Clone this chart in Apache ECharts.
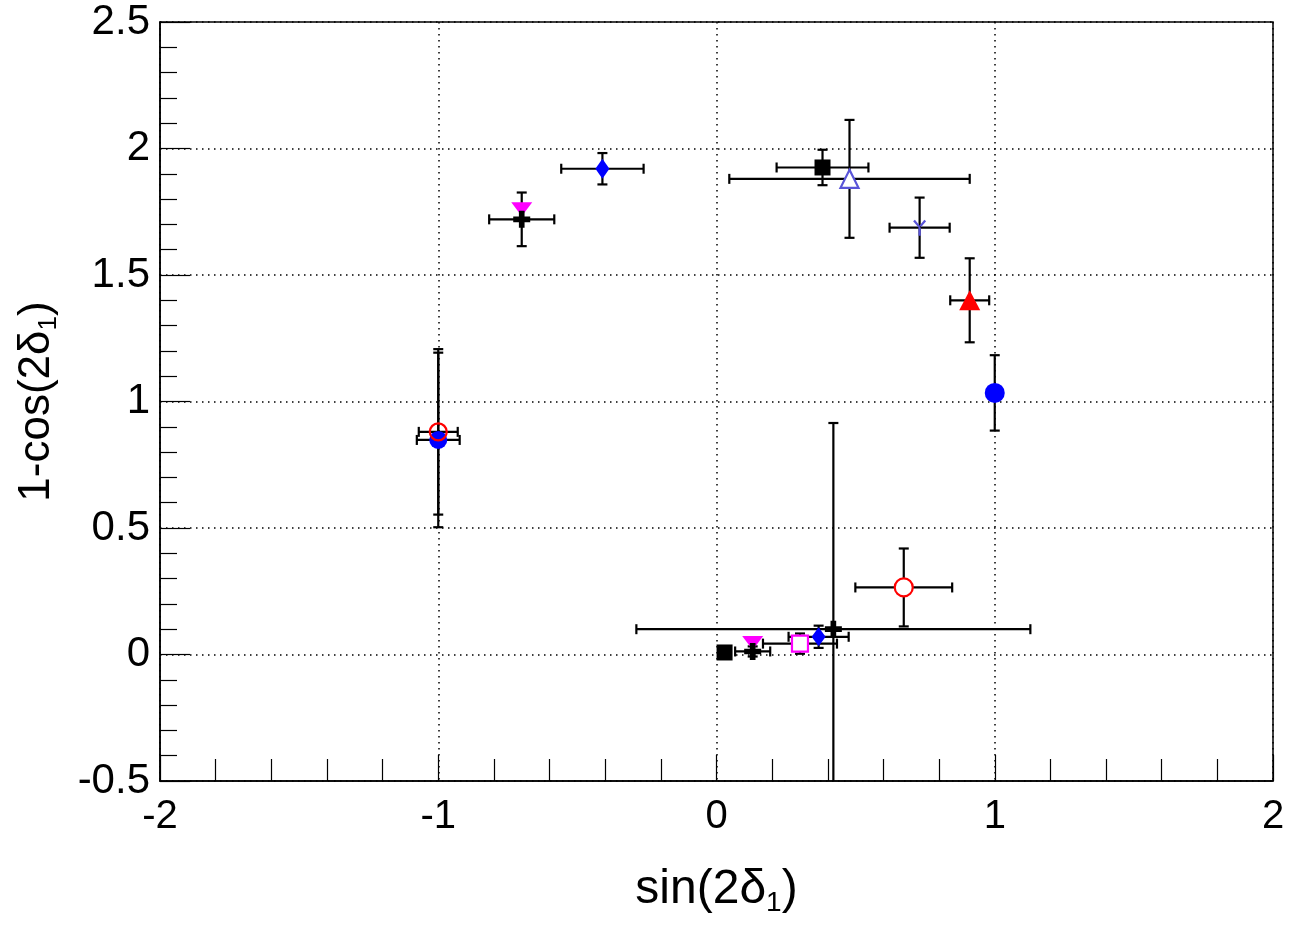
<!DOCTYPE html>
<html>
<head>
<meta charset="utf-8">
<script src="https://cdn.jsdelivr.net/npm/echarts@6/dist/echarts.min.js"></script>
<style>
html,body{margin:0;padding:0;background:#fff;}
#c{width:1293px;height:929px;}
</style>
</head>
<body>
<div id="c"></div>
<script>
// ---- data ----
const xTicks = [-2, -1, 0, 1, 2];
const yTicks = [-0.5, 0, 0.5, 1, 1.5, 2, 2.5];
const pointIds = ['blueDiamondTop','magentaTriTop','blackCrossTop','blackSquareTop','openTriangle','yStar','redTriangle','blueCircleRight','blueBlobLeft','redRingLeft','redRingBottom','bigCross','blueDiamondBottom','magentaSquare','blackSquareBottom','magentaTriBottom','blackCrossBottom'];
const xVals = [-0.41, -0.70, -0.70, 0.381, 0.478, 0.73, 0.91, 1.00, -1.00, -1.00, 0.673, 0.42, 0.367, 0.30, 0.029, 0.13, 0.13];
const yVals = [1.92, 1.76, 1.72, 1.925, 1.88, 1.687, 1.40, 1.034, 0.848, 0.88, 0.265, 0.10, 0.07, 0.043, 0.008, 0.045, 0.012];
const xErrs = [0.148, 0, 0.117, 0.165, 0.432, 0.108, 0.07, 0, 0.077, 0.07, 0.174, 0.708, 0.108, 0.133, 0, 0, 0.063];
const yErrs = [0.062, 0, 0.106, 0.07, 0.233, 0.119, 0.166, 0.149, 0.345, 0.327, 0.154, 0.815, 0.044, 0.04, 0, 0, 0.02];

// ---- marker styles (by point id) ----
const CROSS = 'path://M1,0 L2,0 L2,1 L3,1 L3,2 L2,2 L2,3 L1,3 L1,2 L0,2 L0,1 L1,1 Z';
const INVTRI = 'path://M0,0 L2,0 L1,1.6 Z';
const YSTAR = 'path://M4.2,4 L5.8,4 L5.8,10 L4.2,10 Z M4.4,5.2 L0.6,1.2 L1.8,0.2 L5.4,4.2 Z M5.6,5.2 L9.4,1.2 L8.2,0.2 L4.6,4.2 Z';
const styles = {
  blueDiamondTop:   {symbol:'diamond', size:[14,20], fill:'#0000ff', stroke:'#0000ff', bw:0},
  magentaTriTop:    {symbol:INVTRI, size:[21,14], fill:'#ff00ff', stroke:'#ff00ff', bw:0},
  blackCrossTop:    {symbol:CROSS, size:[17,17], fill:'#000', stroke:'#000', bw:0},
  blackSquareTop:   {symbol:'rect', size:[16,16], fill:'#000', stroke:'#000', bw:0},
  openTriangle:     {symbol:'triangle', size:[18,18], fill:'#fff', stroke:'#5954d8', bw:2.2},
  yStar:            {symbol:YSTAR, size:[13,16], fill:'#5954d8', stroke:'#5954d8', bw:0},
  redTriangle:      {symbol:'triangle', size:[21,20], fill:'#ff0000', stroke:'#ff0000', bw:0},
  blueCircleRight:  {symbol:'circle', size:[20,20], fill:'#0000ff', stroke:'#0000ff', bw:0},
  blueBlobLeft:     {symbol:'circle', size:[18,18], fill:'#0000ff', stroke:'#0000ff', bw:0},
  redRingLeft:      {symbol:'circle', size:[17,17], fill:'rgba(255,255,255,0)', stroke:'#ff0000', bw:2.2},
  redRingBottom:    {symbol:'circle', size:[18,18], fill:'#fff', stroke:'#ff0000', bw:2.2},
  bigCross:         {symbol:CROSS, size:[17,17], fill:'#000', stroke:'#000', bw:0},
  blueDiamondBottom:{symbol:'diamond', size:[14,19], fill:'#0000ff', stroke:'#0000ff', bw:0},
  magentaSquare:    {symbol:'rect', size:[16,16], fill:'#fff', stroke:'#ff00ff', bw:2.2},
  blackSquareBottom:{symbol:'rect', size:[16,16], fill:'#000', stroke:'#000', bw:0},
  magentaTriBottom: {symbol:INVTRI, size:[21,14], fill:'#ff00ff', stroke:'#ff00ff', bw:0},
  blackCrossBottom: {symbol:CROSS, size:[17,17], fill:'#000', stroke:'#000', bw:0}
};

const errData = pointIds.map((id, i) => [xVals[i], yVals[i], xErrs[i], yErrs[i]]);
const markerData = pointIds.map((id, i) => {
  const s = styles[id];
  return {
    value: [xVals[i], yVals[i]],
    symbol: s.symbol,
    symbolSize: s.size,
    itemStyle: {color: s.fill, borderColor: s.stroke, borderWidth: s.bw, opacity: 1}
  };
});

const FONT = "'Liberation Sans', Arial, Helvetica, sans-serif";
const chart = echarts.init(document.getElementById('c'), null, {renderer: 'canvas'});

chart.setOption({
  animation: false,
  backgroundColor: '#fff',
  grid: {left: 160, right: 20, top: 22, bottom: 148, outerBoundsMode: 'none', containLabel: false,
         show: true, borderColor: '#000', borderWidth: 1.5, backgroundColor: 'transparent'},
  xAxis: {
    type: 'value', min: xTicks[0], max: xTicks[xTicks.length - 1], interval: 1,
    axisLine: {show: true, onZero: false, lineStyle: {color: '#000', width: 1.5}},
    axisTick: {show: true, inside: true, length: 26, lineStyle: {color: '#000', width: 1.2}},
    minorTick: {show: true, splitNumber: 5, length: 22, lineStyle: {color: '#000', width: 1.2}},
    splitLine: {show: true, lineStyle: {color: '#000', width: 1.5, type: [1.5, 4.5]}},
    axisLabel: {color: '#000', fontFamily: FONT, fontSize: 40, margin: 16, formatter: v => String(v)},
    name: '{a|sin(2δ}{s|1}{a|)}',
    nameLocation: 'middle', nameGap: 82,
    nameTextStyle: {rich: {
      a: {fontFamily: FONT, fontSize: 48, color: '#000'},
      s: {fontFamily: FONT, fontSize: 28, color: '#000', verticalAlign: 'bottom', padding: [26, 0, 0, 0]}
    }}
  },
  yAxis: {
    type: 'value', min: yTicks[0], max: yTicks[yTicks.length - 1], interval: 0.5,
    axisLine: {show: true, onZero: false, lineStyle: {color: '#000', width: 1.5}},
    axisTick: {show: true, inside: true, length: 30, lineStyle: {color: '#000', width: 1.2}},
    minorTick: {show: true, splitNumber: 5, length: 17, lineStyle: {color: '#000', width: 1.2}},
    splitLine: {show: true, lineStyle: {color: '#000', width: 1.5, type: [1.5, 4.5]}},
    axisLabel: {color: '#000', fontFamily: FONT, fontSize: 42, margin: 10, formatter: v => String(v)},
    name: '{a|1-cos(2δ}{s|1}{a|)}',
    nameLocation: 'middle', nameGap: 98,
    nameTextStyle: {rich: {
      a: {fontFamily: FONT, fontSize: 44, color: '#000'},
      s: {fontFamily: FONT, fontSize: 26, color: '#000', verticalAlign: 'bottom', padding: [24, 0, 0, 0]}
    }}
  },
  series: [
    {
      type: 'custom',
      clip: true,
      z: 2,
      data: errData,
      encode: {x: 0, y: 1},
      renderItem: function (params, api) {
        const x = api.value(0), y = api.value(1), ex = api.value(2), ey = api.value(3);
        const cap = 5;
        const st = {stroke: '#000', lineWidth: 2.2};
        const ch = [];
        if (ex > 0) {
          const l = api.coord([x - ex, y]), r = api.coord([x + ex, y]);
          ch.push({type: 'line', shape: {x1: l[0], y1: l[1], x2: r[0], y2: r[1]}, style: st});
          ch.push({type: 'line', shape: {x1: l[0], y1: l[1] - cap, x2: l[0], y2: l[1] + cap}, style: st});
          ch.push({type: 'line', shape: {x1: r[0], y1: r[1] - cap, x2: r[0], y2: r[1] + cap}, style: st});
        }
        if (ey > 0) {
          const t = api.coord([x, y + ey]), b = api.coord([x, y - ey]);
          ch.push({type: 'line', shape: {x1: t[0], y1: t[1], x2: b[0], y2: b[1]}, style: st});
          ch.push({type: 'line', shape: {x1: t[0] - cap, y1: t[1], x2: t[0] + cap, y2: t[1]}, style: st});
          ch.push({type: 'line', shape: {x1: b[0] - cap, y1: b[1], x2: b[0] + cap, y2: b[1]}, style: st});
        }
        return {type: 'group', children: ch};
      }
    },
    {
      type: 'scatter',
      z: 3,
      data: markerData,
      emphasis: {disabled: true}
    }
  ]
});
</script>
</body>
</html>
